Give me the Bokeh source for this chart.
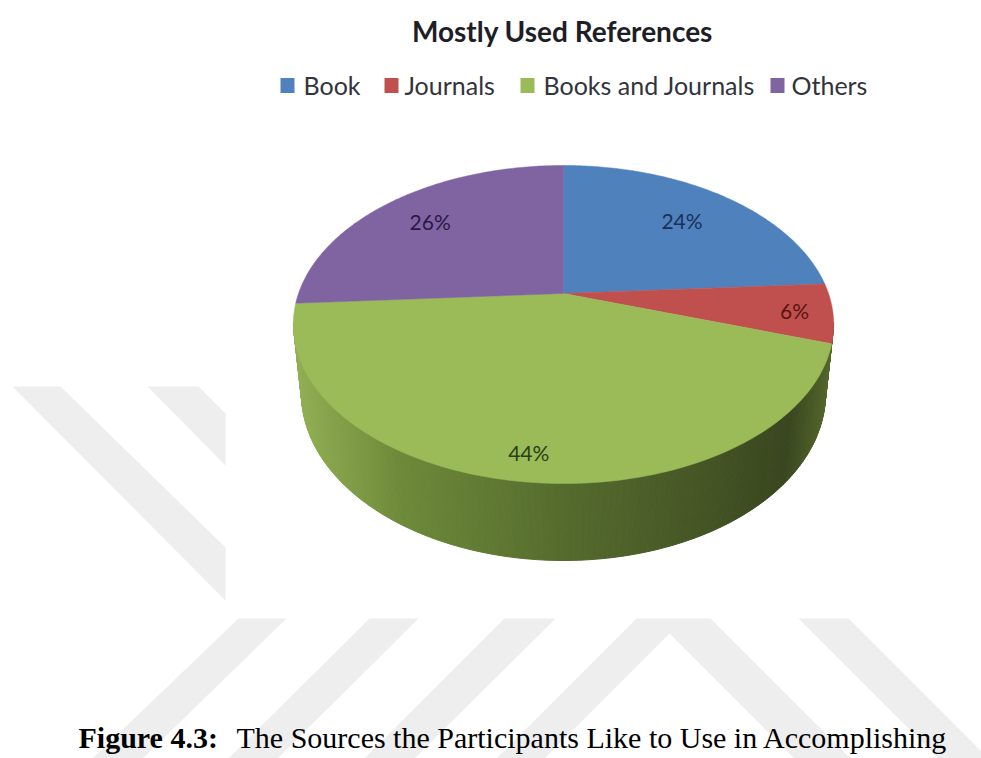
import numpy as np
from bokeh.core.properties import value
from bokeh.embed import file_html
from bokeh.plotting import figure
from bokeh.resources import INLINE

# Chart content
title = "Mostly Used References"
categories = ["Book", "Journals", "Books and Journals", "Others"]
shares = [24, 6, 44, 26]
slice_colors = ["#4f81bd", "#c0504d", "#9bbb59", "#8064a2"]
label_colors = ["#1b2f5c", "#5a1414", "#2c3d14", "#2a1848"]
caption_bold = "Figure 4.3:"
caption_line1 = "The Sources the Participants Like to Use in Accomplishing"
caption_line2 = "Assignments"

# Pie projection: the disc is tilted away, so its far half is foreshortened
APEX_X, APEX_Y = 563.0, 293.0
RADIUS_X, RADIUS_Y = 265.0, 153.0
TILT = 0.195
label_radii = [0.72, 0.86, 0.87, 0.76]

# Side wall outlines
TOP_RIM = (563.0, 322.0, 270.0, 158.0)
BASE_RIM = (563.0, 393.0, 262.0, 167.0)
wall_x = [294, 400, 563, 700, 790, 833]
wall_rgb = [(146, 176, 84), (110, 138, 58), (86, 108, 46), (70, 87, 38), (58, 70, 32), (84, 104, 44)]


def project(clock_deg, r=1.0):
    """Screen position of a disc point given clockwise degrees from 12 o'clock."""
    a = np.radians(clock_deg)
    dx, dy = r * np.sin(a), r * np.cos(a)
    d = 1 + TILT * dy
    return APEX_X + RADIUS_X * dx / d, APEX_Y - RADIUS_Y * dy / d


p = figure(width=981, height=758, x_range=(0, 981), y_range=(758, 0),
           output_backend="svg", toolbar_location=None, min_border=0,
           background_fill_color="white", border_fill_color="white",
           outline_line_color=None)
p.xaxis.visible = False
p.yaxis.visible = False
p.grid.visible = False

# Pale chevrons of the page background
bands_x = [[12, 60, 225, 225], [147, 198, 225, 225],
           [238, 286, 142, 92], [369, 418, 277, 228], [504, 555, 414, 364],
           [636, 710, 850, 794, 669, 544, 496], [798, 848, 988, 938]]
bands_y = [[386, 386, 547, 600], [386, 386, 413, 465],
           [618, 618, 758, 758], [618, 618, 758, 758], [618, 618, 758, 758],
           [618, 618, 758, 758, 633, 758, 758], [618, 618, 758, 758]]
p.patches(bands_x, bands_y, fill_color="#eeeeee", line_color=None)

# Side wall: narrow strips shaded from lit left to dark right
t = np.radians(np.linspace(180, 0, 241))
xt = TOP_RIM[0] + TOP_RIM[2] * np.cos(t)
yt = TOP_RIM[1] + TOP_RIM[3] * np.sin(t)
xb = BASE_RIM[0] + BASE_RIM[2] * np.cos(t)
yb = BASE_RIM[1] + BASE_RIM[3] * np.sin(t)
strip_x, strip_y, strip_c = [], [], []
for i in range(len(t) - 1):
    strip_x.append([xt[i], xt[i + 1], xb[i + 1], xb[i]])
    strip_y.append([yt[i], yt[i + 1], yb[i + 1], yb[i]])
    mid = (xt[i] + xt[i + 1]) / 2
    rgb = [int(np.interp(mid, wall_x, [c[k] for c in wall_rgb])) for k in range(3)]
    strip_c.append("#%02x%02x%02x" % tuple(rgb))
p.patches(strip_x, strip_y, fill_color=strip_c, line_color=strip_c, line_width=1)

# Top face slices, clockwise from 12 o'clock
edges = np.concatenate([[0], np.cumsum(shares)]) * 360 / sum(shares)
xs, ys = [], []
for a0, a1 in zip(edges[:-1], edges[1:]):
    arc = np.linspace(a0, a1, 120)
    ax, ay = project(arc)
    xs.append([APEX_X] + list(ax))
    ys.append([APEX_Y] + list(ay))
p.patches(xs, ys, fill_color=slice_colors, line_color=slice_colors, line_width=0.5)

# Percentage labels at each slice's middle angle
lx, ly = [], []
for a0, a1, r in zip(edges[:-1], edges[1:], label_radii):
    x, y = project((a0 + a1) / 2, r)
    lx.append(x)
    ly.append(y)
p.text(lx, ly, text=[f"{s}%" for s in shares], text_color=label_colors,
       text_font=value("Lato"), text_font_size="21px",
       text_align="center", text_baseline="middle")

# Title and legend
p.text([562], [30], text=[title], text_font=value("Lato"), text_font_size="28px",
       text_font_style="bold", text_color="#1e1e26",
       text_align="center", text_baseline="middle")
legend_swatch_x = [280, 384, 520, 770]
legend_text_x = [303, 404, 543, 791]
p.rect([x + 7 for x in legend_swatch_x], [85] * 4, width=14, height=15,
       fill_color=slice_colors, line_color=None)
p.text(legend_text_x, [84] * 4, text=categories, text_font=value("Lato"),
       text_font_size="25px", text_color="#33333b",
       text_align="left", text_baseline="middle")

# Figure caption, running past the page edge
serif = value("Liberation Serif")
p.text([78], [737], text=[caption_bold], text_font=serif, text_font_size="30px",
       text_font_style="bold", text_color="black", text_baseline="alphabetic")
p.text([236], [737], text=[caption_line1], text_font=serif, text_font_size="30px",
       text_color="black", text_baseline="alphabetic")
p.text([507], [772], text=[caption_line2], text_font=serif, text_font_size="30px",
       text_color="black", text_baseline="alphabetic")

open("out.html", "w").write(file_html(p, INLINE))
